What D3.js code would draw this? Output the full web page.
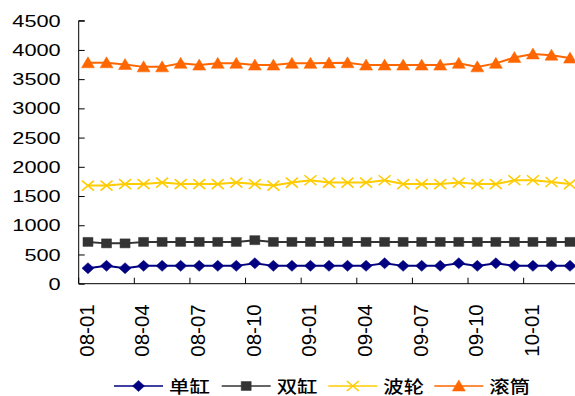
<!DOCTYPE html>
<html>
<head>
<meta charset="utf-8">
<script src="https://cdn.jsdelivr.net/npm/d3@7"></script>
<style>
  html, body { margin: 0; padding: 0; background: #fff; }
  svg { display: block; }
  text { font-family: "Liberation Sans", Arial, sans-serif; fill: #000; }
  .cjk { font-family: "Noto Sans CJK SC", "Liberation Sans", sans-serif; }
</style>
</head>
<body>
<svg id="chart" width="575" height="396"></svg>
<script>
// Monthly output by washing-machine type, 2008-01 .. 2010-03
const months = [
  "08-01","08-02","08-03","08-04","08-05","08-06","08-07","08-08","08-09",
  "08-10","08-11","08-12","09-01","09-02","09-03","09-04","09-05","09-06",
  "09-07","09-08","09-09","09-10","09-11","09-12","10-01","10-02","10-03"
];
const tickLabels = ["08-01","08-04","08-07","08-10","09-01","09-04","09-07","09-10","10-01"];
const yTicks = [0, 500, 1000, 1500, 2000, 2500, 3000, 3500, 4000, 4500];

const danGang = [265,305,265,305,305,305,305,305,305,350,305,305,305,305,305,305,350,305,305,305,350,305,350,305,305,305,305];
const shuangGang = [715,690,690,715,715,715,715,715,715,745,715,715,715,715,715,715,715,715,715,715,715,715,715,715,715,715,715];
const boLun = [1680,1680,1705,1705,1730,1705,1705,1705,1730,1705,1680,1730,1770,1730,1730,1730,1770,1705,1705,1705,1730,1705,1705,1770,1770,1740,1705];
const gunTong = [3780,3780,3750,3710,3710,3770,3740,3770,3770,3740,3740,3770,3770,3775,3780,3740,3740,3740,3740,3740,3770,3710,3770,3870,3930,3910,3860];

const seriesNames = ["单缸", "双缸", "波轮", "滚筒"];
const seriesValues = [danGang, shuangGang, boLun, gunTong];
const seriesColors = ["#000080", "#333333", "#FFCC00", "#FF6600"];
const seriesMarkers = ["diamond", "square", "cross", "triangle"];

const svg = d3.select("#chart");

const x = d3.scaleBand().domain(months).range([78.7, 78.7 + 27 * 18.54]).padding(0);
const y = d3.scaleLinear().domain([0, 4500]).range([283.7, 20.7]);
const cx = m => x(m) + x.bandwidth() / 2;

// marker shapes (slightly wider than tall)
function markerPath(type) {
  switch (type) {
    case "diamond": return "M-6,0L0,-5.5L6,0L0,5.5Z";
    case "square": return "M-5,-4.5H5V4.5H-5Z";
    case "triangle": return "M-6.5,5L0,-6L6.5,5Z";
    case "cross": return "M-6,-5L6,5M-6,5L6,-5";
  }
}
function drawMarker(g, type, color) {
  const p = g.append("path").attr("d", markerPath(type));
  if (type === "cross") p.attr("fill", "none").attr("stroke", color).attr("stroke-width", 1.6);
  else p.attr("fill", color).attr("stroke", color).attr("stroke-width", 0.5);
}

// y axis
const yAxis = svg.append("g").attr("transform", "translate(78.7,0)")
  .call(d3.axisRight(y).tickValues(yTicks).tickSize(6).tickFormat(""));
yAxis.select(".domain").attr("d", `M6,${y(4500)}H0V${y(0)}`).attr("stroke", "#000");
yAxis.selectAll(".tick line").attr("stroke", "#000");

svg.append("g").selectAll("text").data(yTicks).join("text")
  .attr("transform", d => `translate(60.7,${y(d)}) scale(1.28,1)`)
  .attr("text-anchor", "end")
  .attr("dy", "0.36em")
  .style("font-size", "17px")
  .text(d => d);

// x axis: ticks every third month on the band boundaries
const xAxis = svg.append("g").attr("transform", `translate(0,${y(0)})`)
  .call(d3.axisTop(x).tickValues(tickLabels).tickSize(6).tickFormat("").offset(0));
xAxis.select(".domain").attr("d", `M${x.range()[0]},0H${x.range()[1]}`).attr("stroke", "#000");
xAxis.selectAll(".tick").attr("transform", d => `translate(${x(d)},0)`);
xAxis.selectAll(".tick line").attr("stroke", "#000");

svg.append("g").selectAll("text").data(tickLabels).join("text")
  .attr("transform", d => `translate(${cx(d) - 1.5},304.3) rotate(-90)`)
  .attr("text-anchor", "end")
  .attr("dy", "0.36em")
  .style("font-size", "20.5px")
  .text(d => d);

// series
const line = d3.line().x((d, i) => cx(months[i])).y(d => y(d));
seriesValues.forEach((vals, k) => {
  const g = svg.append("g");
  g.append("path").datum(vals).attr("d", line)
    .attr("fill", "none").attr("stroke", seriesColors[k]).attr("stroke-width", 2);
  vals.forEach((v, i) => {
    const mg = g.append("g").attr("transform", `translate(${cx(months[i])},${y(v)})`);
    drawMarker(mg, seriesMarkers[k], seriesColors[k]);
  });
});

// legend
const legendX = [114, 221.7, 328.3, 434.3];
const legendY = 386;
seriesNames.forEach((name, k) => {
  const g = svg.append("g").attr("transform", `translate(${legendX[k]},${legendY})`);
  g.append("line").attr("x1", 0).attr("x2", 49).attr("y1", 0).attr("y2", 0)
    .attr("stroke", seriesColors[k]).attr("stroke-width", 1.6);
  const mg = g.append("g").attr("transform", "translate(24.5,0)");
  drawMarker(mg, seriesMarkers[k], seriesColors[k]);
  g.append("text").attr("class", "cjk")
    .attr("transform", "translate(55,0.5) scale(1.2,1)")
    .attr("dy", "0.36em")
    .style("font-size", "17px")
    .style("font-weight", 500)
    .text(name);
});
</script>
</body>
</html>
